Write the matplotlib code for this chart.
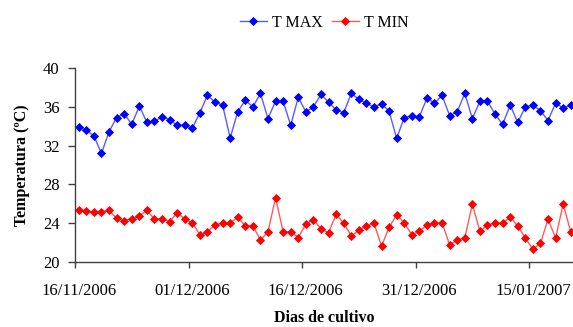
import numpy as np
import pandas as pd
import matplotlib
matplotlib.use("Agg")
import matplotlib.pyplot as plt
import matplotlib.dates as mdates

# ——— DATA (daily readings, 16/11/2006 .. 20/01/2007) ———
start = "2006-11-16"
n_days = 66

t_max = [33.9, 33.6, 33.0, 31.2, 33.45, 34.9, 35.3, 34.2, 36.1, 34.4,
         34.5, 35.0, 34.7, 34.1, 34.1, 33.8, 35.4, 37.2, 36.5, 36.2,
         32.8, 35.5, 36.7, 36.0, 37.4, 34.8, 36.6, 36.6, 34.1, 37.0,
         35.5, 36.0, 37.3, 36.5, 35.7, 35.4, 37.4, 36.8, 36.4, 36.0,
         36.35, 35.55, 32.75, 34.9, 35.1, 35.0, 36.9, 36.4, 37.2, 35.1,
         35.5, 37.4, 34.8, 36.6, 36.6, 35.25, 34.2, 36.2, 34.4, 36.0,
         36.2, 35.6, 34.6, 36.4, 35.9, 36.2]

t_min = [25.3, 25.25, 25.1, 25.1, 25.3, 24.5, 24.25, 24.45, 24.75, 25.3,
         24.4, 24.45, 24.15, 25.05, 24.45, 24.0, 22.8, 23.1, 23.8, 24.0,
         24.0, 24.6, 23.7, 23.7, 22.25, 23.1, 26.6, 23.1, 23.1, 22.5,
         23.9, 24.35, 23.4, 23.0, 24.9, 24.0, 22.65, 23.25, 23.7, 24.0,
         21.6, 23.55, 24.85, 24.0, 22.8, 23.15, 23.8, 24.0, 24.0, 21.75,
         22.25, 22.45, 25.95, 23.15, 23.8, 24.0, 24.0, 24.6, 23.7, 22.45,
         21.3, 21.9, 24.4, 22.45, 25.95, 23.1]

y_ticks = [20, 24, 28, 32, 36, 40]

# ——— PLOT ———
plt.rcParams['font.family'] = ['Liberation Serif', 'DejaVu Serif']

days = pd.date_range(start, periods=n_days, freq="D")
x = days + pd.Timedelta(hours=12)   # points sit in the middle of each day slot

fig = plt.figure(figsize=(5.73, 3.27), dpi=100)
ax = fig.add_axes([75 / 573, 65.3 / 327, 498 / 573, 193.4 / 327])

ax.plot(x, t_max, color='#5a5aff', lw=1.0, marker='D', ms=3.8,
        mfc='#0000ff', mec='#0000ff', mew=0.6, label='T MAX')
ax.plot(x, t_min, color='#ff5a5a', lw=1.0, marker='D', ms=3.8,
        mfc='#ff0000', mec='#ff0000', mew=0.6, label='T MIN')

ax.set_ylim(20, 40)
ax.set_yticks(y_ticks)
ax.set_xlim(days[0], days[0] + pd.Timedelta(days=65.8))

# tick marks on day boundaries, labels centred on the day slot
ax.set_xticks(days[::15])
ax.set_xticks(x[::15], minor=True)
ax.xaxis.set_major_formatter(plt.NullFormatter())
ax.xaxis.set_minor_formatter(mdates.DateFormatter('%d/%m/%Y'))
ax.tick_params(axis='x', which='major', direction='out', length=4, width=1, color='#404040')
ax.tick_params(axis='x', which='minor', length=0, pad=15, labelsize=12)
ax.tick_params(axis='y', direction='out', length=5, width=1, color='#404040', pad=6, labelsize=12)

for side in ['top', 'right']:
    ax.spines[side].set_visible(False)
for side in ['left', 'bottom']:
    ax.spines[side].set_color('#404040')
    ax.spines[side].set_linewidth(1)

fig.text(22 / 573, 1 - 165 / 327, 'Temperatura (ºC)', rotation=90, fontsize=11.5,
         fontweight='bold', ha='center', va='center')
fig.text(324 / 573, 1 - 318 / 327, 'Dias de cultivo', fontsize=11.5,
         fontweight='bold', ha='center', va='center')

fig.legend(loc='center', bbox_to_anchor=(324 / 573, 1 - 23 / 327), ncol=2,
           frameon=False, fontsize=11.5, handlelength=1.7, handletextpad=0.3,
           columnspacing=0.6, borderpad=0)

fig.savefig('out.png', dpi=100)
